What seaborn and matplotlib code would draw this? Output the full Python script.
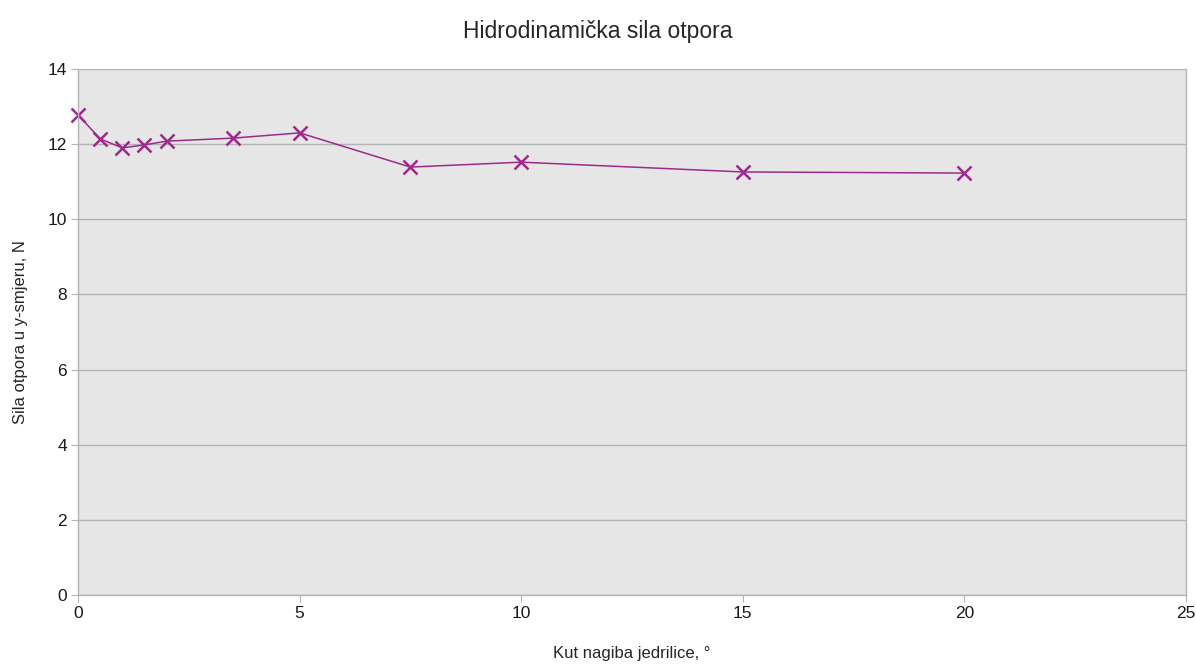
import matplotlib
matplotlib.use("Agg")
import matplotlib.pyplot as plt
import seaborn as sns
import pandas as pd

# kut nagiba i sila otpora (procijenjeno sa slike)
kut = [0, 0.5, 1, 1.5, 2, 3.5, 5, 7.5, 10, 15, 20]
sila = [12.78, 12.14, 11.9, 11.98, 12.08, 12.16, 12.3, 11.39, 11.52, 11.26, 11.23]

df = pd.DataFrame({"kut": kut, "sila": sila})

sns.set_style("white")
plt.rcParams["font.family"] = ["Liberation Sans", "DejaVu Sans"]

fig = plt.figure(figsize=(11.96, 6.64), dpi=100)
ax = fig.add_axes([78 / 1196, 69 / 664, 1108 / 1196, 526 / 664])
ax.set_facecolor("#e6e6e6")

boja = "#9c2a8c"
sns.lineplot(data=df, x="kut", y="sila", ax=ax, color=boja,
             linewidth=1.1, marker="x", markersize=10, markeredgewidth=1.8,
             markeredgecolor=boja, clip_on=False)

ax.set_xlim(0, 25)
ax.set_ylim(0, 14)
ax.set_xticks(range(0, 26, 5))
ax.set_yticks(range(0, 15, 2))
ax.yaxis.grid(True, color="#b3b3b3", linewidth=1)
ax.xaxis.grid(False)
ax.set_axisbelow(True)
ax.spines["top"].set_visible(False)
for s in ["left", "bottom", "right"]:
    ax.spines[s].set_color("#b3b3b3")
    ax.spines[s].set_linewidth(1)
ax.tick_params(axis="both", length=5, color="#b3b3b3", labelsize=12.5,
               labelcolor="#1a1a1a", direction="out", pad=3,
               bottom=True, left=True)

ax.set_xlabel("Kut nagiba jedrilice, °", fontsize=12, labelpad=18)
ax.set_ylabel("Sila otpora u y-smjeru, N", fontsize=12, labelpad=14)
fig.suptitle("Hidrodinamička sila otpora", fontsize=16.5, y=0.97)

fig.savefig("out.png", dpi=100)
